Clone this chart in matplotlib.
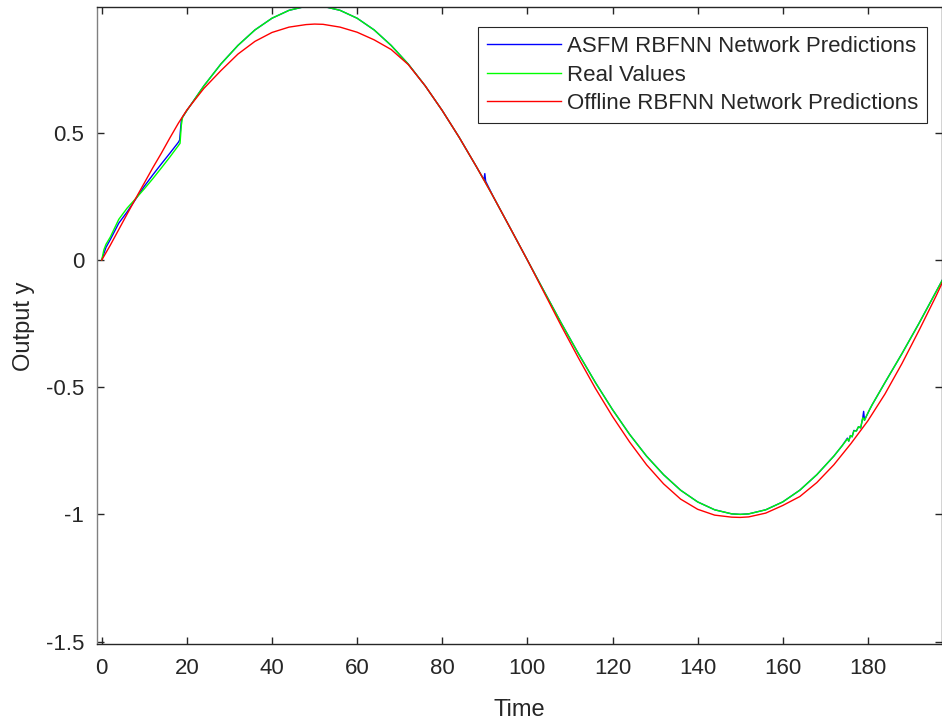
import matplotlib
matplotlib.use("Agg")
import matplotlib.pyplot as plt

plt.rcParams['font.family'] = ['Liberation Sans', 'DejaVu Sans']
plt.rcParams['axes.unicode_minus'] = False

# Real Values (green)
real_t = [0, 0.5, 1, 2, 3, 4, 6, 8, 10, 12, 14, 16, 18, 18.4, 18.7, 19, 20,
          24, 28, 32, 36, 40, 44, 48, 50, 52, 56, 60, 64, 68, 72, 76, 80, 84,
          88, 90, 92, 96, 100, 104, 108, 112, 116, 120, 124, 128, 132, 136,
          140, 144, 148, 150, 152, 156, 160, 164, 168, 172, 174, 175.2, 175.5,
          175.9, 176.3, 176.7, 177.3, 177.8, 178.3, 178.8, 179.2, 179.7,
          180.4, 181, 184, 188, 192, 196, 198]
real_y = [0, 0.04, 0.062, 0.09, 0.125, 0.16, 0.205, 0.242, 0.28, 0.32, 0.362,
          0.405, 0.45, 0.459, 0.53, 0.562, 0.588,
          0.685, 0.771, 0.844, 0.905, 0.951, 0.982, 0.998, 1.0, 0.998, 0.982,
          0.951, 0.905, 0.844, 0.771, 0.685, 0.588, 0.482,
          0.368, 0.309, 0.249, 0.125, 0.0, -0.125, -0.249, -0.368, -0.482,
          -0.588, -0.685, -0.771, -0.844, -0.905,
          -0.951, -0.982, -0.998, -1.0, -0.998, -0.982, -0.951, -0.905, -0.844,
          -0.771, -0.729, -0.703, -0.712,
          -0.69, -0.695, -0.672, -0.672, -0.655, -0.66, -0.62, -0.63, -0.612,
          -0.588, -0.569, -0.482, -0.368, -0.249, -0.125, -0.063]

# ASFM RBFNN Network Predictions (blue)
asfm_t = [0, 1, 2, 4, 6, 8, 10, 12, 14, 16, 18, 18.3, 18.7, 19, 20,
          24, 28, 32, 36, 40, 44, 48, 50, 52, 56, 60, 64, 68, 72, 76, 80, 84,
          88, 89.8, 90, 90.2, 92, 96, 100, 104, 108, 112,
          116, 120, 124, 128, 132, 136,
          140, 144, 148, 150, 152, 156, 160, 164, 168, 172, 174, 175.2, 175.5,
          175.9, 176.3, 176.7, 177.3, 177.8, 178.3, 178.8, 179.0, 179.2, 179.7,
          180.4, 181, 184, 188, 192, 196, 198]
asfm_y = [0, 0.05, 0.08, 0.145, 0.19, 0.24, 0.29, 0.335, 0.378, 0.42, 0.463,
          0.472, 0.55, 0.562, 0.588,
          0.685, 0.771, 0.844, 0.905, 0.951, 0.982, 0.998, 1.0, 0.998, 0.982,
          0.951, 0.905, 0.844, 0.771, 0.685, 0.588, 0.482,
          0.368, 0.316, 0.34, 0.31, 0.249, 0.125, 0.0,
          -0.125, -0.249, -0.368,
          -0.482, -0.588, -0.685, -0.771, -0.844, -0.905,
          -0.951, -0.982, -0.998, -1.0, -0.998, -0.982, -0.951, -0.905, -0.844,
          -0.771, -0.729, -0.700, -0.712,
          -0.69, -0.695, -0.670, -0.672, -0.655, -0.66, -0.62, -0.595, -0.63,
          -0.612, -0.588, -0.569, -0.482, -0.368, -0.249, -0.125, -0.063]

# Offline RBFNN Network Predictions (red)
offline_t = [0, 2, 4, 6, 8, 10, 12, 14, 16, 18, 20, 24, 28, 32, 36, 40, 44,
             48, 50, 52, 56, 60, 64, 68, 72, 76, 80, 84, 88, 92, 96, 100, 104,
             108, 112, 116, 120, 124, 128, 132, 136, 140, 144, 148, 150, 152,
             156, 160, 164, 168, 172, 176, 180, 184, 188, 192, 196, 198]
offline_y = [0, 0.058, 0.12, 0.182, 0.243, 0.303, 0.363, 0.42, 0.48, 0.538,
             0.59, 0.675, 0.745, 0.81, 0.86, 0.895, 0.916,
             0.926, 0.928, 0.927, 0.916, 0.896, 0.866, 0.828, 0.769, 0.685,
             0.588, 0.482, 0.368, 0.249, 0.125, 0.0, -0.13,
             -0.26, -0.385, -0.505, -0.615, -0.715, -0.805, -0.88, -0.94,
             -0.98, -1.003, -1.011, -1.012, -1.010,
             -0.995, -0.965, -0.93, -0.875, -0.805, -0.722, -0.632, -0.527,
             -0.407, -0.277, -0.142, -0.07]

x_ticks = [0, 20, 40, 60, 80, 100, 120, 140, 160, 180]
y_ticks = [-1.5, -1, -0.5, 0, 0.5]
y_tick_labels = ['-1.5', '-1', '-0.5', '0', '0.5']

fig = plt.figure(figsize=(9.42, 7.22), dpi=100)
ax = fig.add_axes([0.1027, 0.1076, 0.8968, 0.8823])

ax.plot(asfm_t, asfm_y, color=(0, 0, 1), lw=1.0, label='ASFM RBFNN Network Predictions')
ax.plot(real_t, real_y, color=(0, 1, 0), lw=1.0, label='Real Values')
ax.plot(offline_t, offline_y, color=(1, 0, 0), lw=1.0, label='Offline RBFNN Network Predictions')

ax.set_xlim(-1.17, 197.3)
ax.set_ylim(-1.511, 0.994)
ax.set_xticks(x_ticks)
ax.set_yticks(y_ticks)
ax.set_yticklabels(y_tick_labels)

ax.tick_params(direction='in', length=5, width=1, colors='#262626',
               top=True, right=True, labelsize=16)
ax.tick_params(axis='x', pad=10)
ax.tick_params(axis='y', pad=9)
for side in ['top', 'bottom', 'right']:
    ax.spines[side].set_color('#262626')
ax.spines['left'].set_color('#808080')
for sp in ax.spines.values():
    sp.set_linewidth(1)

ax.set_xlabel('Time', fontsize=17, color='#262626', labelpad=14)
ax.set_ylabel('Output y', fontsize=17, color='#262626', labelpad=8)

leg = ax.legend(loc='upper right', bbox_to_anchor=(0.9832, 0.9686),
                borderaxespad=0, fontsize=16, fancybox=False, framealpha=1,
                edgecolor='#262626', handlelength=3.3, handletextpad=0.3,
                labelspacing=0.33, borderpad=0.4)
leg.get_frame().set_linewidth(0.8)
for txt in leg.get_texts():
    txt.set_color('#262626')

fig.savefig('out.png', dpi=100)
